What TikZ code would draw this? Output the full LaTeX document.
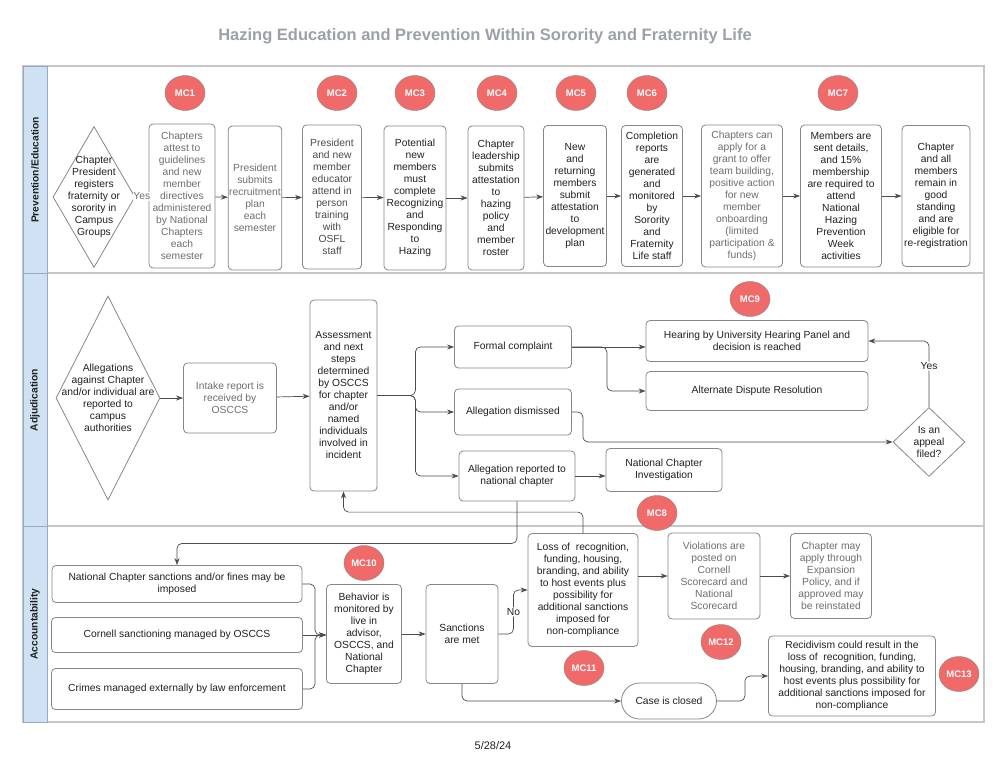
\documentclass[tikz,border=0pt]{standalone}
\usepackage{fontspec}
\setmainfont{Liberation Sans}
\usetikzlibrary{arrows.meta,shapes.geometric,positioning}
\definecolor{mcred}{RGB}{240,106,106}
\definecolor{laneblue}{RGB}{207,226,243}
\definecolor{laneedge}{RGB}{150,170,200}
\definecolor{boxedge}{RGB}{135,135,135}
\definecolor{txtgray}{RGB}{110,110,110}
\definecolor{txtmid}{RGB}{75,75,75}
\definecolor{txtdark}{RGB}{33,33,33}
\definecolor{titlegray}{RGB}{155,160,170}
\begin{document}
\begin{tikzpicture}[
        x=1pt, y=-1pt,
        >={Stealth[length=7pt,width=5pt]},
        every node/.style={font=\fontsize{10.3}{12}\selectfont, text=txtdark, align=center},
        box/.style={rectangle, draw=boxedge, line width=0.8pt, rounded corners=4pt, inner sep=1pt},
        dimbox/.style={box, text=txtgray},
        dia/.style={diamond, draw=boxedge, line width=0.8pt, inner sep=0pt},
        mc/.style={ellipse, draw=boxedge, fill=mcred, minimum width=40pt, minimum height=35pt, inner sep=0pt, text=white, font=\bfseries\fontsize{9.5}{10}\selectfont},
        lane/.style={draw=black!22, line width=1.5pt},
        lanehead/.style={draw=laneedge, fill=laneblue, line width=0.8pt},
        lanelabel/.style={rotate=90, font=\bfseries\fontsize{10.3}{12}\selectfont},
        conn/.style={->, draw=black!70, line width=0.7pt, rounded corners=5pt}
    ]

    \useasboundingbox (0,0) rectangle (1005,757);
    \fill[white] (0,0) rectangle (1005,757);

    % Titulo
    \node[font=\bfseries\fontsize{16.5}{18}\selectfont, text=titlegray] (title) at (485,36) {Hazing Education and Prevention Within Sorority and Fraternity Life};
    \node[font=\fontsize{11}{12}\selectfont] (date) at (493,746) {5/28/24};

    % Carriles
    \draw[lane] (23,66) rectangle (984,273);
    \draw[lane] (23,273) rectangle (984,526);
    \draw[lane] (23,526) rectangle (984,722);
    \filldraw[lanehead] (23,66) rectangle (47,273);
    \filldraw[lanehead] (23,273) rectangle (47,526);
    \filldraw[lanehead] (23,526) rectangle (47,722);
    \node[lanelabel] (lprev) at (35,170) {Prevention/Education};
    \node[lanelabel] (ladj) at (35,400) {Adjudication};
    \node[lanelabel] (lacc) at (35,624) {Accountability};

    % Prevention/Education
    \node[dia, minimum width=82, minimum height=141, label={center:{Chapter\\President\\registers\\fraternity or\\sorority in\\Campus\\Groups}}] (reg) at (94,197) {};
    \node[dimbox, minimum width=66, minimum height=144] (attest) at (182,196) {Chapters\\attest to\\guidelines\\and new\\member\\directives\\administered\\by National\\Chapters\\each\\semester};
    \node[dimbox, minimum width=52, minimum height=144] (plan) at (255,198) {President\\submits\\recruitment\\plan\\each\\semester};
    \node[box, text=txtmid, minimum width=59, minimum height=144] (train) at (332,197) {President\\and new\\member\\educator\\attend in\\person\\training\\with\\OSFL\\staff};
    \node[box, minimum width=62, minimum height=144] (rr) at (415,198) {Potential\\new\\members\\must\\complete\\Recognizing\\and\\Responding\\to\\Hazing};
    \node[box, minimum width=56, minimum height=144] (policy) at (496,198) {Chapter\\leadership\\submits\\attestation\\to\\hazing\\policy\\and\\member\\roster};
    \node[box, minimum width=63, minimum height=141] (devplan) at (575,196) {New\\and\\returning\\members\\submit\\attestation\\to\\development\\plan};
    \node[box, minimum width=61, minimum height=141] (reports) at (652,196) {Completion\\reports\\are\\generated\\and\\monitored\\by\\Sorority\\and\\Fraternity\\Life staff};
    \node[dimbox, minimum width=81, minimum height=142] (grant) at (742,196) {Chapters can\\apply for a\\grant to offer\\team building,\\positive action\\for new\\member\\onboarding\\(limited\\participation \&\\funds)};
    \node[box, minimum width=81, minimum height=142] (nhpw) at (841,196) {Members are\\sent details,\\and 15\%\\membership\\are required to\\attend\\National\\Hazing\\Prevention\\Week\\activities};
    \node[box, minimum width=68, minimum height=141] (good) at (936,196) {Chapter\\and all\\members\\remain in\\good\\standing\\and are\\eligible for\\re-registration};

    % Adjudication
    \node[dia, minimum width=104, minimum height=204, label={center:{Allegations\\against Chapter\\and/or individual are\\reported to\\campus\\authorities}}] (alleg) at (108,398) {};
    \node[dimbox, minimum width=93, minimum height=70] (intake) at (230,398) {Intake report is\\received by\\OSCCS};
    \node[box, minimum width=67, minimum height=191] (assess) at (343.5,395.5) {Assessment\\and next\\steps\\determined\\by OSCCS\\for chapter\\and/or\\named\\individuals\\involved in\\incident};
    \node[box, minimum width=117, minimum height=42] (formal) at (513,347) {Formal complaint};
    \node[box, minimum width=117, minimum height=46] (dismiss) at (513,412) {Allegation dismissed};
    \node[box, minimum width=116, minimum height=50] (natrep) at (517,476) {Allegation reported to\\national chapter};
    \node[box, minimum width=116, minimum height=43] (natinv) at (664,470) {National Chapter\\Investigation};
    \node[box, minimum width=222, minimum height=41] (hearing) at (757,341) {Hearing by University Hearing Panel and\\decision is reached};
    \node[box, minimum width=222, minimum height=39] (adr) at (757,391) {Alternate Dispute Resolution};
    \node[dia, minimum width=72, minimum height=69, label={center:{Is an\\appeal\\filed?}}] (appeal) at (929,442) {};

    % Accountability
    \node[box, minimum width=250, minimum height=37] (ncsanc) at (177,584) {National Chapter sanctions and/or fines may be\\imposed};
    \node[box, minimum width=251, minimum height=35] (cornell) at (177,635) {Cornell sanctioning managed by OSCCS};
    \node[box, minimum width=251, minimum height=41] (crimes) at (177,689) {Crimes managed externally by law enforcement};
    \node[box, minimum width=75, minimum height=99] (behav) at (364,634) {Behavior is\\monitored by\\live in\\advisor,\\OSCCS, and\\National\\Chapter};
    \node[box, minimum width=72, minimum height=99] (met) at (462,634) {Sanctions\\are met};
    \node[box, minimum width=110, minimum height=113] (loss) at (583,590) {Loss of\ \ recognition,\\funding, housing,\\branding, and ability\\to host events plus\\possibility for\\additional sanctions\\imposed for\\non-compliance};
    \node[dimbox, minimum width=92, minimum height=86] (viol) at (714,576) {Violations are\\posted on\\Cornell\\Scorecard and\\National\\Scorecard};
    \node[dimbox, minimum width=81, minimum height=85] (reinst) at (831,576) {Chapter may\\apply through\\Expansion\\Policy, and if\\approved may\\be reinstated};
    \node[box, rounded corners=18pt, minimum width=95, minimum height=36] (closed) at (669,701) {Case is closed};
    \node[box, minimum width=167, minimum height=80] (recid) at (852,676) {Recidivism could result in the\\loss of\ \ recognition, funding,\\housing, branding, and ability to\\host events plus possibility for\\additional sanctions imposed for\\non-compliance};

    % Marcas MC
    \node[mc] (mc1) at (185,93) {MC1};
    \node[mc] (mc2) at (337,93) {MC2};
    \node[mc] (mc3) at (415,93) {MC3};
    \node[mc] (mc4) at (497,93) {MC4};
    \node[mc] (mc5) at (576,93) {MC5};
    \node[mc] (mc6) at (647,93) {MC6};
    \node[mc] (mc7) at (838,93) {MC7};
    \node[mc] (mc8) at (657,513) {MC8};
    \node[mc] (mc9) at (750,299) {MC9};
    \node[mc] (mc10) at (364,563) {MC10};
    \node[mc] (mc11) at (584,668) {MC11};
    \node[mc] (mc12) at (721,642) {MC12};
    \node[mc] (mc13) at (959,674) {MC13};

    % Conexiones
    \draw[draw=black!70, line width=0.7pt] (reg) -- node[fill=white, inner sep=0.5pt, text=txtgray] {Yes} (attest);
    \draw[conn] (attest) -- (plan);
    \draw[conn] (plan) -- (train);
    \draw[conn] (train) -- (rr);
    \draw[conn] (rr) -- (policy);
    \draw[conn] (policy) -- (devplan);
    \draw[conn] (devplan) -- (reports);
    \draw[conn] (reports) -- (grant);
    \draw[conn] (grant) -- (nhpw);
    \draw[conn] (nhpw) -- (good);

    \draw[conn] (alleg) -- (intake);
    \draw[conn] (intake) -- (assess);
    \draw[conn] (assess.east) -- ++(38,0) |- (formal.west);
    \draw[conn] (assess.east) -- ++(38,0) |- (dismiss.west);
    \draw[conn] (assess.east) -- ++(38,0) |- (natrep.west);
    \draw[conn] (formal.east) -- (formal.east -| hearing.west);
    \draw[conn] (formal.east) -- ++(35,0) |- (adr.west);
    \draw[conn] (dismiss.east) -- ++(11,0) |- (appeal.west);
    \draw[conn] (appeal.north) |- node[pos=0.31, fill=white, inner sep=1pt] {Yes} (hearing.east);
    \draw[conn] (natrep.east) -- (natrep.east -| natinv.west);

    \draw[conn] (natrep.south) -- ++(0,42) -| (ncsanc.north);
    \draw[conn] (loss.north) -- ++(0,-21) -| (assess.south);

    \coordinate (join) at (315,635);
    \draw[conn] (ncsanc.east) -| (join) -- (join -| behav.west);
    \draw[conn] (cornell.east) -- (cornell.east -| behav.west);
    \draw[conn] (crimes.east) -| (join) -- (join -| behav.west);
    \draw[conn] (behav) -- (met);
    \draw[conn] (met.east) -- ++(15,0) |- node[pos=0.25, fill=white, inner sep=1pt] {No} (loss.west);
    \draw[conn] (viol.west -| loss.east) -- (viol.west);
    \draw[conn] (viol) -- (reinst);
    \draw[conn] (met.south) |- (closed.west);
    \draw[conn] (closed.east) -- ++(28,0) |- (recid.west);

\end{tikzpicture}
\end{document}
